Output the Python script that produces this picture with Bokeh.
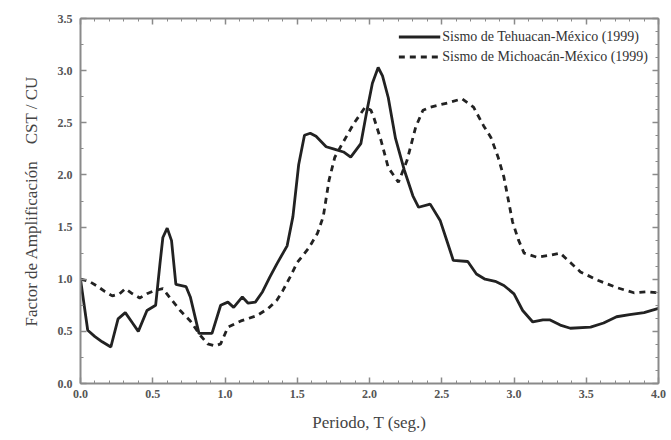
from bokeh.plotting import figure
from bokeh.models import LinearAxis, Range1d, PrintfTickFormatter, SingleIntervalTicker, Legend, LegendItem
from bokeh.embed import file_html
from bokeh.resources import INLINE

teh_x = [0.0, 0.05, 0.1, 0.15, 0.21, 0.26, 0.31, 0.36, 0.40, 0.46, 0.52, 0.55, 0.57, 0.60, 0.63, 0.66,
         0.73, 0.76, 0.82, 0.91, 0.97, 1.02, 1.06, 1.12, 1.16, 1.21, 1.26, 1.31, 1.36, 1.43, 1.47, 1.51,
         1.55, 1.59, 1.63, 1.70, 1.75, 1.82, 1.87, 1.94, 1.98, 2.02, 2.06, 2.09, 2.13, 2.18, 2.24, 2.30,
         2.34, 2.42, 2.49, 2.54, 2.58, 2.68, 2.74, 2.80, 2.87, 2.93, 3.00, 3.06, 3.13, 3.20, 3.25, 3.32,
         3.39, 3.53, 3.62, 3.71, 3.80, 3.90, 4.00]
teh_y = [1.0, 0.51, 0.45, 0.40, 0.35, 0.62, 0.68, 0.58, 0.50, 0.70, 0.75, 1.15, 1.40, 1.49, 1.37, 0.95,
         0.93, 0.83, 0.48, 0.48, 0.75, 0.78, 0.73, 0.83, 0.77, 0.78, 0.88, 1.02, 1.15, 1.32, 1.60, 2.10,
         2.38, 2.40, 2.37, 2.27, 2.25, 2.22, 2.17, 2.30, 2.60, 2.88, 3.03, 2.95, 2.74, 2.35, 2.05, 1.80,
         1.69, 1.72, 1.56, 1.35, 1.18, 1.17, 1.05, 1.00, 0.98, 0.94, 0.86, 0.70, 0.59, 0.61, 0.61, 0.56,
         0.53, 0.54, 0.58, 0.64, 0.66, 0.68, 0.72]

mic_x = [0.0, 0.06, 0.12, 0.17, 0.22, 0.27, 0.31, 0.36, 0.41, 0.46, 0.51, 0.57, 0.62, 0.69, 0.76, 0.83,
         0.88, 0.93, 0.97, 1.02, 1.11, 1.22, 1.30, 1.36, 1.40, 1.45, 1.50, 1.58, 1.64, 1.68, 1.72, 1.76,
         1.80, 1.89, 1.97, 2.01, 2.03, 2.08, 2.13, 2.20, 2.26, 2.32, 2.37, 2.42, 2.54, 2.64, 2.72, 2.79,
         2.84, 2.89, 2.93, 2.99, 3.03, 3.07, 3.16, 3.25, 3.32, 3.39, 3.46, 3.58, 3.71, 3.83, 3.92, 4.00]
mic_y = [1.0, 0.98, 0.93, 0.88, 0.84, 0.86, 0.91, 0.86, 0.82, 0.86, 0.89, 0.91, 0.82, 0.70, 0.60, 0.46,
         0.38, 0.36, 0.38, 0.54, 0.60, 0.65, 0.72, 0.80, 0.89, 1.02, 1.16, 1.30, 1.44, 1.60, 1.95, 2.17,
         2.27, 2.49, 2.65, 2.62, 2.55, 2.33, 2.07, 1.93, 2.14, 2.46, 2.62, 2.65, 2.69, 2.73, 2.65, 2.47,
         2.36, 2.17, 1.98, 1.55, 1.38, 1.25, 1.21, 1.23, 1.25, 1.16, 1.07, 0.99, 0.92, 0.87, 0.88, 0.87]

labels = ["Sismo de Tehuacan-México (1999)", "Sismo de Michoacán-México (1999)"]
x_title = "Periodo, T (seg.)"
y_title = "Factor de Amplificación\u00a0\u00a0\u00a0\u00a0CST / CU"

FONT = "Liberation Serif"
AX = "#8a8a8a"
TXT = "#555555"

p = figure(width=671, height=440, output_backend="svg", toolbar_location=None,
           x_range=Range1d(0, 4), y_range=Range1d(0, 3.5),
           min_border_left=80, min_border_right=13, min_border_top=18, min_border_bottom=57,
           x_axis_type=None, y_axis_type=None)
p.grid.visible = False
p.outline_line_color = None
p.background_fill_color = "white"
p.border_fill_color = "white"


def style(ax, show_labels=True):
    ax.axis_line_color = AX
    ax.axis_line_width = 2
    ax.major_tick_line_color = AX
    ax.minor_tick_line_color = AX
    ax.major_tick_line_width = 1.5
    ax.major_tick_in = 6
    ax.major_tick_out = 0
    ax.minor_tick_in = 3
    ax.minor_tick_out = 0
    ax.formatter = PrintfTickFormatter(format="%.1f")
    if show_labels:
        ax.major_label_text_font = FONT
        ax.major_label_text_font_style = "bold"
        ax.major_label_text_font_size = "12px"
        ax.major_label_text_color = TXT
        ax.axis_label_text_font = FONT
        ax.axis_label_text_font_style = "normal"
        ax.axis_label_text_font_size = "17px"
        ax.axis_label_text_color = "#444444"
    else:
        ax.major_label_text_color = None
        ax.major_label_text_font_size = "1px"
        ax.major_label_standoff = 0


xb = LinearAxis(ticker=SingleIntervalTicker(interval=0.5, num_minor_ticks=5), axis_label=x_title)
style(xb)
xb.major_label_standoff = 6
xb.axis_label_standoff = 12
p.add_layout(xb, "below")

xt = LinearAxis(ticker=SingleIntervalTicker(interval=0.5, num_minor_ticks=5))
style(xt, False)
p.add_layout(xt, "above")

yl = LinearAxis(ticker=SingleIntervalTicker(interval=0.5, num_minor_ticks=2), axis_label=y_title)
style(yl)
yl.major_label_standoff = 8
yl.axis_label_standoff = 14
p.add_layout(yl, "left")

yr = LinearAxis(ticker=SingleIntervalTicker(interval=0.5, num_minor_ticks=4))
style(yr, False)
p.add_layout(yr, "right")

r1 = p.line(teh_x, teh_y, line_color="#222222", line_width=2.8)
r2 = p.line(mic_x, mic_y, line_color="#222222", line_width=2.8, line_dash="6 5")

leg = Legend(items=[LegendItem(label=labels[0], renderers=[r1]),
                    LegendItem(label=labels[1], renderers=[r2])],
             location="top_right", margin=10, padding=0, spacing=3,
             glyph_width=42, glyph_height=17, label_height=17, label_standoff=2,
             label_text_font=FONT, label_text_font_size="14px", label_text_color="#333333",
             background_fill_alpha=0, border_line_color=None)
p.add_layout(leg)

open("out.html", "w").write(file_html(p, INLINE))
